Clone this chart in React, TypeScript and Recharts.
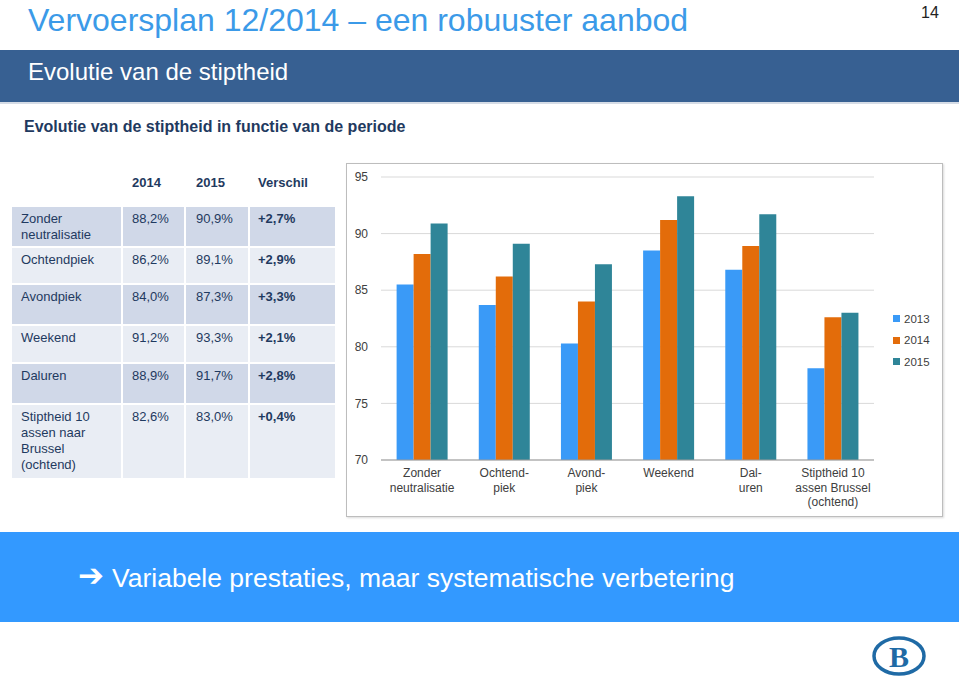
import React from 'react';
import { BarChart, Bar, XAxis, YAxis, CartesianGrid, Legend } from 'recharts';

// --- Data ---

const categories = [
  'Zonder neutralisatie',
  'Ochtendpiek',
  'Avondpiek',
  'Weekend',
  'Daluren',
  'Stiptheid 10 assen Brussel (ochtend)',
];

const categoryLines = [
  ['Zonder', 'neutralisatie'],
  ['Ochtend-', 'piek'],
  ['Avond-', 'piek'],
  ['Weekend'],
  ['Dal-', 'uren'],
  ['Stiptheid 10', 'assen Brussel', '(ochtend)'],
];

const values2013 = [85.5, 83.7, 80.3, 88.5, 86.8, 78.1];
const values2014 = [88.2, 86.2, 84.0, 91.2, 88.9, 82.6];
const values2015 = [90.9, 89.1, 87.3, 93.3, 91.7, 83.0];

const yTicks = [70, 75, 80, 85, 90, 95];

// table next to the chart
const tableRows = [
  ['Zonder', 'neutralisatie'],
  ['Ochtendpiek'],
  ['Avondpiek'],
  ['Weekend'],
  ['Daluren'],
  ['Stiptheid 10', 'assen naar', 'Brussel', '(ochtend)'],
];
const table2014 = ['88,2%', '86,2%', '84,0%', '91,2%', '88,9%', '82,6%'];
const table2015 = ['90,9%', '89,1%', '87,3%', '93,3%', '91,7%', '83,0%'];
const tableDiff = ['+2,7%', '+2,9%', '+3,3%', '+2,1%', '+2,8%', '+0,4%'];

const chartData = categories.map((name, i) => ({
  name,
  y2013: values2013[i],
  y2014: values2014[i],
  y2015: values2015[i],
}));

// --- Layout helpers ---

const FONT = '"Liberation Sans", Arial, sans-serif';
const NAVY = '#1F3A60';

const rowTops = [207, 248, 285, 326, 364, 405];
const rowBottoms = [246, 283, 324, 362, 403, 478];
const colLefts = [12, 123, 186, 250];
const colRights = [121, 184, 248, 335];

const CategoryTick = (props: any) => {
  const { x, y, payload } = props;
  const lines = categoryLines[payload.index] || [payload.value];
  return (
    <text textAnchor="middle" fill="#404040" fontSize={12} fontFamily={FONT}>
      {lines.map((line: string, i: number) => (
        <tspan key={i} x={x} y={y + 17 + i * 14.5}>
          {line}
        </tspan>
      ))}
    </text>
  );
};

const LegendContent = ({ payload }: any) => (
  <div style={{ width: 60, fontFamily: FONT, fontSize: 11.5, color: '#404040' }}>
    {(payload || []).map((entry: any) => (
      <div key={entry.value} style={{ display: 'flex', alignItems: 'center', height: 21.5 }}>
        <span style={{ width: 7, height: 7, background: entry.color, marginRight: 4, display: 'inline-block' }} />
        {entry.value}
      </div>
    ))}
  </div>
);

const Cell = ({ row, col, children, bold }: any) => (
  <div
    style={{
      position: 'absolute',
      left: colLefts[col],
      top: rowTops[row],
      width: colRights[col] - colLefts[col],
      height: rowBottoms[row] - rowTops[row],
      background: row % 2 === 0 ? '#D0D8E8' : '#E9EDF4',
      boxSizing: 'border-box',
      padding: `4px 0 0 ${col === 2 ? 10 : col === 3 ? 8 : 9}px`,
      fontSize: 13,
      lineHeight: '16px',
      color: NAVY,
      fontWeight: bold ? 'bold' : 'normal',
    }}
  >
    {children}
  </div>
);

export default function App() {
  return (
    <div
      style={{
        position: 'absolute',
        left: 0,
        top: 0,
        width: 959,
        height: 676,
        overflow: 'hidden',
        background: '#fff',
        fontFamily: FONT,
      }}
    >
      {/* Title */}
      <div style={{ position: 'absolute', left: 28, top: 2, fontSize: 32, lineHeight: '36px', color: '#3B9AE8', whiteSpace: 'nowrap' }}>
        Vervoersplan 12/2014 – een robuuster aanbod
      </div>
      <div style={{ position: 'absolute', left: 921, top: 4.5, fontSize: 16, lineHeight: '16px', color: '#222' }}>14</div>

      {/* Dark band */}
      <div style={{ position: 'absolute', left: 0, top: 50, width: 959, height: 52, background: '#376092' }} />
      <div style={{ position: 'absolute', left: 0, top: 102, width: 959, height: 2, background: '#D5DCE6' }} />
      <div style={{ position: 'absolute', left: 28, top: 60, fontSize: 24, lineHeight: '24px', color: '#fff', whiteSpace: 'nowrap' }}>
        Evolutie van de stiptheid
      </div>

      <div style={{ position: 'absolute', left: 24, top: 118.5, fontSize: 16, lineHeight: '16px', fontWeight: 'bold', color: NAVY, whiteSpace: 'nowrap' }}>
        Evolutie van de stiptheid in functie van de periode
      </div>

      {/* Table */}
      {['2014', '2015', 'Verschil'].map((h, i) => (
        <div
          key={h}
          style={{ position: 'absolute', left: [132, 196, 258][i], top: 175.5, fontSize: 13, lineHeight: '13px', fontWeight: 'bold', color: NAVY }}
        >
          {h}
        </div>
      ))}
      {tableRows.map((lines, r) => (
        <React.Fragment key={r}>
          <Cell row={r} col={0}>
            {lines.map((l, i) => (
              <div key={i}>{l}</div>
            ))}
          </Cell>
          <Cell row={r} col={1}>{table2014[r]}</Cell>
          <Cell row={r} col={2}>{table2015[r]}</Cell>
          <Cell row={r} col={3} bold>{tableDiff[r]}</Cell>
        </React.Fragment>
      ))}

      {/* Chart frame */}
      <div
        style={{
          position: 'absolute',
          left: 346,
          top: 163,
          width: 597,
          height: 354,
          boxSizing: 'border-box',
          border: '1.5px solid #BDBDBD',
          boxShadow: '1px 1px 2px rgba(0,0,0,0.15)',
        }}
      />
      <div style={{ position: 'absolute', left: 347, top: 163 }}>
        <BarChart
          width={596}
          height={354}
          data={chartData}
          margin={{ top: 14, right: 9, left: 0, bottom: 0 }}
          barCategoryGap="19%"
          barGap={0}
        >
          <CartesianGrid vertical={false} stroke="#D9D9D9" />
          <XAxis
            dataKey="name"
            height={57}
            interval={0}
            tickLine={false}
            tickSize={0}
            tickMargin={0}
            axisLine={{ stroke: '#9A9A9A' }}
            tick={<CategoryTick />}
          />
          <YAxis
            width={34}
            domain={[70, 95]}
            ticks={yTicks}
            allowDataOverflow
            axisLine={false}
            tickLine={false}
            tickSize={0}
            tickMargin={13}
            tick={{ fill: '#404040', fontSize: 12, fontFamily: FONT }}
          />
          <Legend
            layout="vertical"
            align="right"
            verticalAlign="middle"
            content={<LegendContent />}
            wrapperStyle={{ left: 546, top: 145, right: 'auto', width: 60 }}
          />
          <Bar dataKey="y2013" name="2013" fill="#3A9AF7" isAnimationActive={false} />
          <Bar dataKey="y2014" name="2014" fill="#E36C0A" isAnimationActive={false} />
          <Bar dataKey="y2015" name="2015" fill="#2F8598" isAnimationActive={false} />
        </BarChart>
      </div>

      {/* Bottom band */}
      <div style={{ position: 'absolute', left: 0, top: 532, width: 959, height: 90, background: '#3399FF' }} />
      <div style={{ position: 'absolute', left: 78, top: 560, fontSize: 31, lineHeight: '31px', fontWeight: 'bold', color: '#fff', fontFamily: '"DejaVu Sans", sans-serif' }}>
        ➔
      </div>
      <div style={{ position: 'absolute', left: 112, top: 564.6, fontSize: 26.5, lineHeight: '26.5px', color: '#fff', whiteSpace: 'nowrap' }}>
        Variabele prestaties, maar systematische verbetering
      </div>

      {/* Logo */}
      <svg style={{ position: 'absolute', left: 870, top: 634 }} width={58} height={42}>
        <ellipse cx={29} cy={22} rx={25} ry={18} fill="none" stroke="#1F6AA5" strokeWidth={3.5} />
        <text x={29} y={33} textAnchor="middle" fontFamily='"Liberation Serif", serif' fontWeight="bold" fontSize={30} fill="#1F6AA5">
          B
        </text>
      </svg>
    </div>
  );
}
